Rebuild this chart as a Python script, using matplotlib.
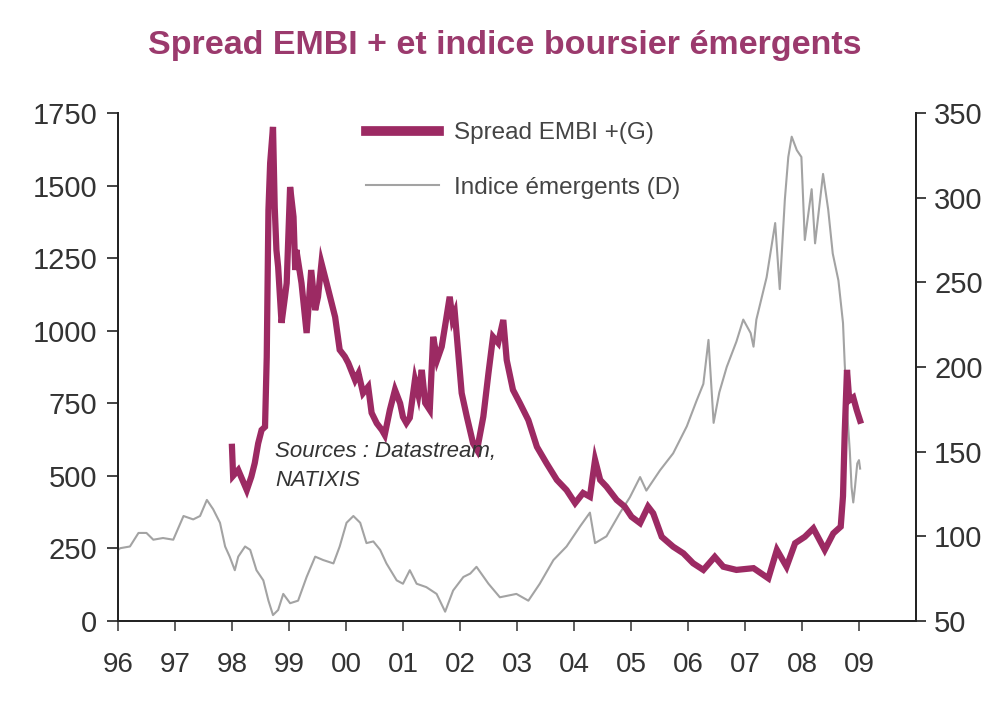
import matplotlib
matplotlib.use("Agg")
import matplotlib.pyplot as plt

# Spread EMBI+ (left axis, bp)
spread_years = [1998.00, 1998.02, 1998.11, 1998.26, 1998.34, 1998.40, 1998.46, 1998.52,
                1998.58, 1998.61, 1998.64, 1998.67, 1998.72, 1998.75, 1998.78, 1998.81,
                1998.87, 1998.93, 1998.96, 1999.02, 1999.08, 1999.11, 1999.13, 1999.22,
                1999.31, 1999.39, 1999.46, 1999.51, 1999.57, 1999.66, 1999.75, 1999.81,
                1999.89, 1999.98, 2000.04, 2000.16, 2000.22, 2000.30, 2000.39, 2000.45,
                2000.54, 2000.63, 2000.68, 2000.77, 2000.86, 2000.95, 2001.00, 2001.06,
                2001.12, 2001.21, 2001.27, 2001.33, 2001.39, 2001.47, 2001.53, 2001.60,
                2001.68, 2001.75, 2001.82, 2001.87, 2001.91, 2001.97, 2002.03, 2002.12,
                2002.23, 2002.30, 2002.41, 2002.50, 2002.58, 2002.67, 2002.76, 2002.82,
                2002.93, 2003.05, 2003.20, 2003.35, 2003.52, 2003.70, 2003.87, 2004.02,
                2004.16, 2004.28, 2004.37, 2004.46, 2004.57, 2004.75, 2004.89, 2005.01,
                2005.16, 2005.30, 2005.39, 2005.54, 2005.74, 2005.92, 2006.09, 2006.27,
                2006.47, 2006.62, 2006.85, 2007.15, 2007.41, 2007.56, 2007.73, 2007.88,
                2008.05, 2008.20, 2008.40, 2008.55, 2008.68, 2008.72, 2008.75, 2008.79,
                2008.83, 2008.90, 2008.96, 2009.02]
spread_vals = [600, 500, 520, 451, 497, 544, 612, 658,
               669, 909, 1416, 1578, 1702, 1426, 1278, 1220,
               1027, 1117, 1164, 1495, 1392, 1209, 1278, 1164,
               992, 1209, 1071, 1117, 1233, 1164, 1094, 1047,
               934, 911, 889, 830, 853, 785, 807, 717,
               681, 658, 641, 727, 796, 750, 703, 682,
               700, 830, 780, 865, 751, 727, 979, 900,
               945, 1030, 1117, 1040, 1061, 923, 785, 704,
               612, 589, 704, 854, 979, 958, 1037, 899,
               796, 751, 692, 600, 543, 486, 451, 406,
               441, 428, 555, 486, 463, 417, 394, 359,
               337, 394, 371, 290, 256, 233, 199, 176,
               221, 187, 176, 182, 147, 245, 187, 268,
               290, 319, 245, 302, 325, 430, 650, 865,
               760, 770, 727, 690]

# Indice emergents (right axis)
index_years = [1996.00, 1996.04, 1996.21, 1996.36, 1996.50, 1996.62, 1996.79, 1996.97,
               1997.15, 1997.32, 1997.44, 1997.56, 1997.67, 1997.79, 1997.88, 1997.96,
               1998.05, 1998.11, 1998.23, 1998.32, 1998.43, 1998.55, 1998.64, 1998.72,
               1998.81, 1998.90, 1999.02, 1999.16, 1999.31, 1999.46, 1999.60, 1999.78,
               1999.89, 2000.01, 2000.13, 2000.25, 2000.36, 2000.48, 2000.60, 2000.71,
               2000.89, 2001.00, 2001.12, 2001.24, 2001.41, 2001.59, 2001.74, 2001.88,
               2002.06, 2002.18, 2002.29, 2002.50, 2002.70, 2002.99, 2003.20, 2003.40,
               2003.64, 2003.87, 2004.11, 2004.28, 2004.37, 2004.57, 2004.81, 2004.98,
               2005.16, 2005.27, 2005.51, 2005.74, 2005.98, 2006.15, 2006.27, 2006.36,
               2006.45, 2006.55, 2006.68, 2006.85, 2006.97, 2007.10, 2007.15, 2007.20,
               2007.38, 2007.53, 2007.61, 2007.70, 2007.76, 2007.82, 2007.91, 2007.99,
               2008.05, 2008.17, 2008.23, 2008.37, 2008.46, 2008.54, 2008.64, 2008.72,
               2008.75, 2008.80, 2008.84, 2008.87, 2008.90, 2008.93, 2008.97, 2009.00,
               2009.02]
index_vals = [92, 93, 94, 102, 102, 98, 99, 98,
              112, 110, 112, 121.5, 116, 108, 94, 88,
              80, 88, 94, 92, 80, 74, 62, 53.5,
              56.5, 66, 60.5, 62, 76, 88, 86, 84,
              94, 108, 112, 108, 96, 97, 92, 84,
              74, 72, 80, 72, 70, 66, 55.5, 68,
              76, 78, 82, 72, 64, 66, 62, 72,
              86, 94, 106, 114, 96, 100, 114, 123,
              135, 127, 139, 149, 165, 180, 190, 216,
              167, 185, 200, 215, 228, 220, 212, 228,
              253, 285, 246, 299, 324, 336, 328, 324,
              275, 305, 273, 314, 293, 267, 251, 226,
              202, 170, 150, 129, 120, 129, 143, 145,
              140]

year_ticks = list(range(1996, 2010))
year_labels = ['96', '97', '98', '99', '00', '01', '02', '03', '04', '05', '06', '07', '08', '09']
left_ticks = [0, 250, 500, 750, 1000, 1250, 1500, 1750]
right_ticks = [50, 100, 150, 200, 250, 300, 350]

maroon = '#9c2a63'
grey_line = '#a3a3a3'
txt = '#333333'

plt.rcParams['font.family'] = ['Liberation Sans', 'DejaVu Sans']

fig = plt.figure(figsize=(9.98, 7.21), dpi=100)
ax = fig.add_axes([0.1182, 0.1387, 0.7996, 0.7046])
ax2 = ax.twinx()

l1, = ax.plot(spread_years, spread_vals, color=maroon, lw=4.5, zorder=3,
              solid_joinstyle='miter', label='Spread EMBI +(G)')
l2, = ax2.plot(index_years, index_vals, color=grey_line, lw=1.5, zorder=2,
               label='Indice émergents (D)')
ax.set_zorder(ax2.get_zorder() + 1)
ax.patch.set_visible(False)

ax.set_xlim(1996, 2010)
ax.set_ylim(0, 1750)
ax2.set_ylim(50, 350)
ax.set_xticks(year_ticks)
ax.set_xticklabels(year_labels)
ax.set_yticks(left_ticks)
ax2.set_yticks(right_ticks)

for a in (ax, ax2):
    a.spines['top'].set_visible(False)
    for s in ('left', 'right', 'bottom'):
        a.spines[s].set_color('#222222')
        a.spines[s].set_linewidth(1.3)

ax.tick_params(axis='x', direction='out', length=7, width=1.2, color='#444444',
               pad=15, labelsize=20, labelcolor=txt)
ax.tick_params(axis='y', direction='out', length=8, width=1.2, color='#222222',
               pad=7, labelsize=21, labelcolor=txt)
ax2.tick_params(axis='y', direction='out', length=7, width=1.2, color='#222222',
                pad=6, labelsize=21, labelcolor=txt)

fig.text(0.506, 0.937, 'Spread EMBI + et indice boursier émergents', ha='center', va='center',
         fontsize=24.5, fontweight='bold', color='#9b3a6d')

leg = ax.legend(handles=[l1, l2], loc='upper left', bbox_to_anchor=(0.283, 1.025), frameon=False,
                fontsize=17.5, labelcolor='#444444', handlelength=3.0, handletextpad=0.65,
                labelspacing=1.35)
leg.get_lines()[0].set_linewidth(7)

ax.text(0.197, 0.305, 'Sources : Datastream,\nNATIXIS', transform=ax.transAxes,
        ha='left', va='center', fontsize=16, style='italic', color='#333333',
        linespacing=1.45)

fig.savefig('out.png', dpi=100)
